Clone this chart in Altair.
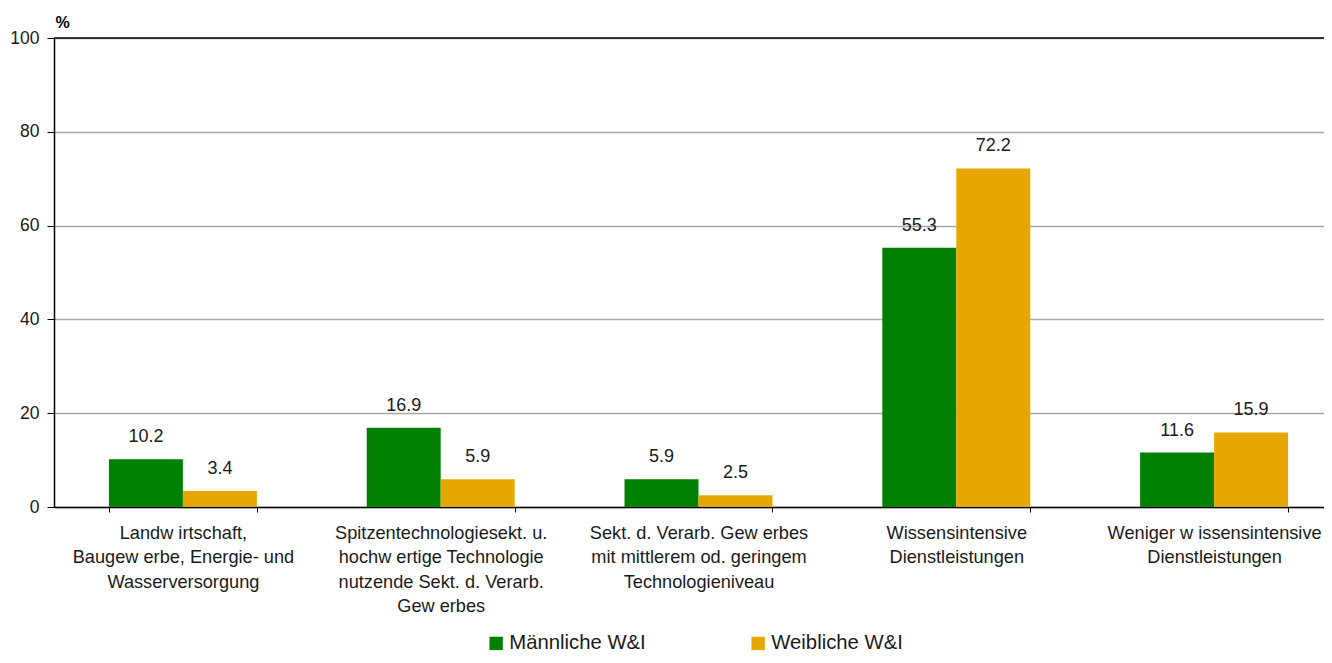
import altair as alt
import pandas as pd

categories = [
    "Landw irtschaft,|Baugew erbe, Energie- und|Wasserversorgung",
    "Spitzentechnologiesekt. u.|hochw ertige Technologie|nutzende Sekt. d. Verarb.|Gew erbes",
    "Sekt. d. Verarb. Gew erbes|mit mittlerem od. geringem|Technologieniveau",
    "Wissensintensive|Dienstleistungen",
    "Weniger w issensintensive|Dienstleistungen",
]
series = ["Männliche W&I", "Weibliche W&I"]
maennlich = [10.2, 16.9, 5.9, 55.3, 11.6]
weiblich = [3.4, 5.9, 2.5, 72.2, 15.9]
colors = ["#008000", "#E6A800"]
y_ticks = [0, 20, 40, 60, 80, 100]

rows = []
for c, m, w in zip(categories, maennlich, weiblich):
    rows.append({"cat": c, "series": series[0], "value": m})
    rows.append({"cat": c, "series": series[1], "value": w})
df = pd.DataFrame(rows)

FONT = "Liberation Sans"

x_enc = alt.X(
    "cat:N",
    sort=categories,
    scale=alt.Scale(paddingInner=0.426, paddingOuter=0.213),
    axis=alt.Axis(
        title=None,
        labelExpr="split(datum.label, '|')",
        labelAngle=0,
        labelFontSize=18.2,
        labelFont=FONT,
        labelColor="#1a1a1a",
        labelLineHeight=24.5,
        labelPadding=12,
        labelBaseline="top",
        labelLimit=0,
        tickBand="extent",
        tickSize=5,
        tickColor="#000000",
        domainColor="#000000",
        domainWidth=1.5,
        grid=False,
    ),
)
y_enc = alt.Y(
    "value:Q",
    scale=alt.Scale(domain=[0, 100], nice=False),
    axis=alt.Axis(
        values=y_ticks,
        title="%",
        titleAngle=0,
        titleAlign="left",
        titleBaseline="bottom",
        titleX=1,
        titleY=-8,
        titleFont=FONT,
        titleFontSize=16,
        titleFontWeight="bold",
        titleColor="#000000",
        labelFont=FONT,
        labelFontSize=17.5,
        labelColor="#1a1a1a",
        labelPadding=8,
        tickSize=7,
        tickColor="#000000",
        domainColor="#000000",
        domainWidth=1.5,
        gridColor="#a6a6a6",
        gridWidth=1.5,
    ),
)

color_enc = alt.Color(
    "series:N",
    sort=series,
    scale=alt.Scale(domain=series, range=colors),
    legend=alt.Legend(
        title=None,
        orient="none",
        direction="horizontal",
        legendX=432,
        legendY=595,
        symbolType="square",
        symbolSize=180,
        symbolStrokeWidth=0,
        symbolOpacity=1,
        labelFont=FONT,
        labelFontSize=20.3,
        labelColor="#1a1a1a",
        labelOffset=3,
        labelLimit=0,
        columnPadding=102,
        padding=0,
    ),
)

base = alt.Chart(df).encode(
    x=x_enc,
    xOffset=alt.XOffset("series:N", sort=series),
)

bars = base.mark_bar().encode(y=y_enc, color=color_enc)

labels = base.mark_text(
    dy=-17, baseline="alphabetic", font=FONT, fontSize=18, color="#1a1a1a"
).encode(y="value:Q", text=alt.Text("value:Q", format=".1f"))

top_rule = alt.Chart(pd.DataFrame({"v": [100]})).mark_rule(
    color="#000000", strokeWidth=1.5
).encode(y="v:Q")

chart = (
    alt.layer(bars, labels, top_rule)
    .properties(
        width=1289,
        height=469,
        autosize=alt.AutoSizeParams(type="none"),
        padding={"left": 46, "top": 30, "right": -19, "bottom": 148},
    )
    .configure_view(stroke=None)
    .configure_scale(bandPaddingInner=0)
)

chart.save("out.html", embed_options={"renderer": "svg", "actions": False})
